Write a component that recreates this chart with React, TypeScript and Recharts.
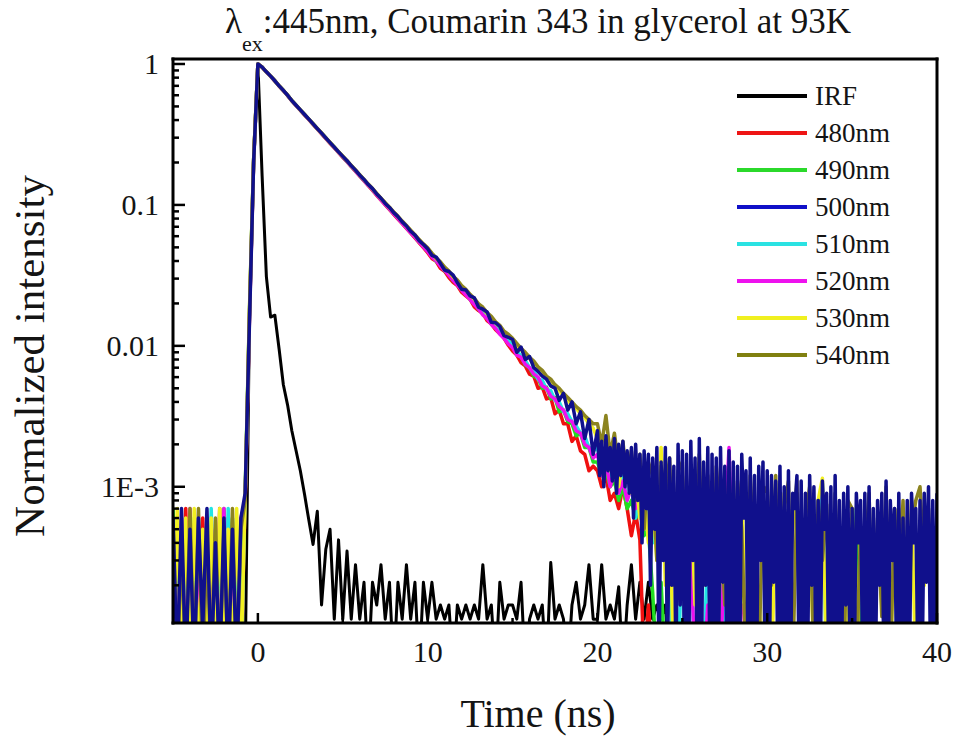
import React from 'react';
import { LineChart, Line, XAxis, YAxis, Legend } from 'recharts';

// ---------- data (intensities in units of 1e-4 of the peak; 0 = below the axis floor) ----------
const TIME_NS = [
  -5, -4.75, -4.5, -4.25, -4, -3.75, -3.5, -3.25, -3, -2.75, -2.5, -2.25, -2, -1.75, -1.5, -1.25, -1, -0.75, -0.5, -0.25,
  0, 0.25, 0.5, 0.75, 1, 1.25, 1.5, 1.75, 2, 2.25, 2.5, 2.75, 3, 3.25, 3.5, 3.75, 4, 4.25, 4.5, 4.75,
  5, 5.25, 5.5, 5.75, 6, 6.25, 6.5, 6.75, 7, 7.25, 7.5, 7.75, 8, 8.25, 8.5, 8.75, 9, 9.25, 9.5, 9.75,
  10, 10.25, 10.5, 10.75, 11, 11.25, 11.5, 11.75, 12, 12.25, 12.5, 12.75, 13, 13.25, 13.5, 13.75, 14, 14.25, 14.5, 14.75,
  15, 15.25, 15.5, 15.75, 16, 16.25, 16.5, 16.75, 17, 17.25, 17.5, 17.75, 18, 18.25, 18.5, 18.75, 19, 19.25, 19.5, 19.75,
  20, 20.25, 20.5, 20.75, 21, 21.25, 21.5, 21.75, 22, 22.25, 22.5, 22.75, 23, 23.25, 23.5, 23.75, 24, 24.25, 24.5, 24.75,
  25, 25.25, 25.5, 25.75, 26, 26.25, 26.5, 26.75, 27, 27.25, 27.5, 27.75, 28, 28.25, 28.5, 28.75, 29, 29.25, 29.5, 29.75,
  30, 30.25, 30.5, 30.75, 31, 31.25, 31.5, 31.75, 32, 32.25, 32.5, 32.75, 33, 33.25, 33.5, 33.75, 34, 34.25, 34.5, 34.75,
  35, 35.25, 35.5, 35.75, 36, 36.25, 36.5, 36.75, 37, 37.25, 37.5, 37.75, 38, 38.25, 38.5, 38.75, 39, 39.25, 39.5, 39.75,
  40,
];

// the 500nm trace is sampled more finely in its long tail
const TIME_500_TAIL = [
  20, 20.125, 20.25, 20.375, 20.5, 20.625, 20.75, 20.875,
  21, 21.125, 21.25, 21.375, 21.5, 21.625, 21.75, 21.875,
  22, 22.125, 22.25, 22.375, 22.5, 22.625, 22.75, 22.875,
  23, 23.125, 23.25, 23.375, 23.5, 23.625, 23.75, 23.875,
  24, 24.125, 24.25, 24.375, 24.5, 24.625, 24.75, 24.875,
  25, 25.125, 25.25, 25.375, 25.5, 25.625, 25.75, 25.875,
  26, 26.125, 26.25, 26.375, 26.5, 26.625, 26.75, 26.875,
  27, 27.125, 27.25, 27.375, 27.5, 27.625, 27.75, 27.875,
  28, 28.125, 28.25, 28.375, 28.5, 28.625, 28.75, 28.875,
  29, 29.125, 29.25, 29.375, 29.5, 29.625, 29.75, 29.875,
  30, 30.125, 30.25, 30.375, 30.5, 30.625, 30.75, 30.875,
  31, 31.125, 31.25, 31.375, 31.5, 31.625, 31.75, 31.875,
  32, 32.125, 32.25, 32.375, 32.5, 32.625, 32.75, 32.875,
  33, 33.125, 33.25, 33.375, 33.5, 33.625, 33.75, 33.875,
  34, 34.125, 34.25, 34.375, 34.5, 34.625, 34.75, 34.875,
  35, 35.125, 35.25, 35.375, 35.5, 35.625, 35.75, 35.875,
  36, 36.125, 36.25, 36.375, 36.5, 36.625, 36.75, 36.875,
  37, 37.125, 37.25, 37.375, 37.5, 37.625, 37.75, 37.875,
  38, 38.125, 38.25, 38.375, 38.5, 38.625, 38.75, 38.875,
  39, 39.125, 39.25, 39.375, 39.5, 39.625, 39.75, 39.875,
  40,
];

const IRF = [
  0, 0, 0, 0, 0, 0, 0, 0, 0, 0, 0, 0, 0, 0, 0, 0, 0, 0, 150, 2200,
  10000, 1600, 310, 160, 165, 95, 53, 38, 25, 18, 13, 8.8, 5.8, 3.9, 6.7, 1.45, 3.6, 5.0, 1.15, 4.2,
  1.15, 3.5, 1.15, 2.8, 1.15, 2.1, 0, 2.1, 1.45, 2.8, 1.15, 2.1, 0, 2.1, 1.15, 2.8, 1.15, 2.1, 0, 2.1,
  1.15, 2.1, 1.15, 1.45, 1.15, 1.45, 0, 1.45, 1.15, 1.45, 1.15, 1.45, 1.15, 2.8, 1.15, 1.45, 0, 2.1, 1.15, 1.45,
  1.45, 1.15, 2.1, 0, 1.15, 1.45, 1.15, 1.45, 0, 2.9, 1.15, 1.45, 1.15, 0, 1.45, 2.1, 1.15, 1.45, 2.8, 1.15,
  1.15, 2.8, 1.15, 1.45, 1.15, 1.95, 0, 1.45, 2.8, 1.15, 2.1, 1.15, 2.1, 1.15, 1.45, 1.15, 1.45, 0, 0, 0,
  0, 1.45, 0, 0, 1.45, 0, 0, 0, 1.45, 0, 0, 0, 0, 1.45, 0, 0, 0, 0, 0, 0,
  0, 0, 0, 0, 1.45, 0, 0, 0, 0, 0, 0, 0, 0, 0, 0, 0, 0, 0, 0, 0,
  0, 0, 0, 0, 0, 0, 0, 0, 0, 0, 0, 0, 0, 0, 0, 0, 0, 0, 0, 0,
  0,
];

const S480 = [
  0, 5, 0, 7, 0, 4, 0, 6, 0, 5, 0, 7, 0, 6, 0, 5, 0, 8, 150, 2050,
  10000, 9480, 8780, 8170, 7570, 6970, 6470, 5970, 5470, 5070, 4690, 4350, 4030, 3730, 3450, 3200, 2960, 2740, 2540, 2350,
  2180, 2020, 1870, 1730, 1600, 1480, 1370, 1270, 1170, 1080, 1000, 928, 858, 795, 736, 681, 630, 583, 539, 498,
  458, 417, 398, 355, 338, 305, 282, 268, 240, 226, 214, 189, 178, 170, 151, 143, 130, 122, 113, 101,
  92, 86, 76, 72, 63, 61, 50, 51, 42, 43, 33, 35, 28, 28, 21, 23, 18, 17, 13, 14,
  13, 10, 12, 8, 9, 7, 10, 7, 4.5, 6.5, 4.2, 0, 1.45, 0, 0, 0, 0, 0, 0, 0,
  0, 0, 0, 0, 1.45, 0, 0, 0, 0, 0, 0, 0, 2.1, 0, 0, 0, 0, 0, 0, 0,
  0, 0, 0, 0, 0, 0, 0, 0, 0, 0, 0, 0, 0, 0, 0, 0, 0, 0, 0, 0,
  0, 0, 0, 0, 0, 0, 0, 0, 0, 0, 0, 0, 0, 0, 0, 0, 0, 0, 0, 0,
  0,
];

const S490 = [
  7, 0, 6, 0, 4, 0, 5, 0, 6, 0, 4, 0, 7, 0, 6, 0, 4, 8.5, 160, 2080,
  10000, 9490, 8790, 8190, 7590, 6990, 6490, 5990, 5490, 5090, 4710, 4370, 4050, 3750, 3470, 3220, 2980, 2760, 2560, 2370,
  2190, 2035, 1880, 1745, 1612, 1495, 1382, 1285, 1182, 1095, 1012, 942, 868, 808, 746, 692, 640, 594, 548, 508,
  470, 436, 398, 377, 340, 321, 291, 275, 250, 236, 213, 203, 181, 172, 158, 146, 136, 127, 114, 108,
  99, 87, 84, 73, 70, 61, 59, 50, 51, 42, 43, 34, 35, 29, 28, 23, 24, 19, 19, 15,
  15, 12, 13, 10, 11, 8, 10, 7, 8, 6, 7, 4.5, 5, 1.8, 0, 2.1, 0, 0, 0, 0,
  0, 2.8, 0, 0, 1.45, 0, 0, 0, 0, 2.1, 0, 0, 0, 0, 0, 0, 0, 0, 0, 0,
  0, 0, 0, 0, 0, 0, 0, 0, 0, 0, 0, 0, 0, 0, 0, 0, 0, 0, 0, 0,
  0, 7, 0, 0, 0, 0, 0, 0, 0, 0, 0, 0, 0, 0, 0, 0, 0, 0, 0, 0,
  0,
];

const S500_HEAD = [
  6, 0, 7, 0, 5, 0, 6, 1, 7, 0, 4, 0, 6, 0, 5, 0, 6, 9, 140, 2000,
  10000, 9500, 8800, 8200, 7600, 7000, 6500, 6000, 5500, 5100, 4720, 4380, 4060, 3760, 3480, 3230, 2990, 2770, 2570, 2380,
  2210, 2060, 1895, 1765, 1625, 1515, 1395, 1305, 1195, 1115, 1025, 960, 882, 826, 758, 709, 650, 611, 558, 524,
  488, 439, 427, 385, 345, 337, 318, 281, 252, 249, 226, 219, 188, 182, 174, 147, 146, 137, 118, 115,
  111, 90, 98, 80, 84, 70, 66, 61, 58, 52, 50, 41, 46, 35, 40, 28, 34, 22, 30, 17,
];

const S500_TAIL = [
  25, 12, 21, 10, 23, 13, 19, 11,
  22, 9, 20, 12, 21, 10, 18, 9,
  19, 6, 20, 8, 17, 4, 18, 7,
  17, 2, 16, 5, 19, 0, 15, 3,
  19, 0, 16, 2, 14, 0, 20, 1.45,
  18, 0, 17, 0, 21, 3, 16, 0,
  22, 0, 15, 2, 19, 0, 17, 0,
  16, 0, 19, 2.1, 14, 0, 18, 0,
  15, 0, 14, 0, 17, 6, 13, 0,
  16, 0, 12, 0, 14, 3, 15, 0,
  13, 0, 12, 2.1, 11, 0, 14, 0,
  10, 0, 13, 0, 9, 7, 12, 0,
  11, 0, 9, 0, 12, 2, 10, 0,
  8, 0, 11, 5, 9, 0, 10, 0,
  12, 0, 8, 0, 9, 1.45, 10, 0,
  7, 0, 9, 4, 8, 0, 9, 0,
  10, 0, 7, 0, 8, 2, 9, 0,
  11, 0, 8, 3, 7, 0, 9, 0,
  6, 0, 8, 0, 9, 4, 7, 0,
  8, 0, 9, 2.1, 10, 0, 8, 0,
  9,
];

const S510 = [
  0, 6, 0, 5, 0, 6, 0, 4, 0, 7, 0, 5, 0, 7, 0, 5, 0, 9, 165, 2090,
  10000, 9495, 8795, 8195, 7595, 6995, 6495, 5995, 5495, 5095, 4715, 4375, 4055, 3755, 3475, 3225, 2985, 2765, 2565, 2375,
  2200, 2040, 1888, 1752, 1618, 1500, 1388, 1290, 1188, 1100, 1018, 946, 874, 812, 750, 696, 644, 598, 552, 512,
  475, 440, 404, 380, 346, 325, 296, 279, 255, 238, 218, 206, 186, 176, 160, 151, 137, 129, 116, 110,
  102, 93, 84, 79, 70, 68, 58, 57, 49, 48, 41, 40, 34, 33, 29, 27, 24, 23, 19, 18,
  19, 13, 16, 11, 14, 9, 12, 8, 10, 6, 9, 5, 7, 4, 6, 3.5, 4, 2.1, 0, 0,
  4.5, 0, 3, 0, 1.45, 0, 4, 2, 0, 0, 1.45, 0, 0, 0, 0, 0, 0, 0, 0, 0,
  0, 0, 0, 0, 0, 0, 0, 0, 0, 0, 0, 0, 0, 10.6, 0, 0, 0, 0, 0, 0,
  0, 0, 0, 0, 0, 0, 0, 0, 0, 0, 0, 0, 0, 0, 0, 0, 0, 0, 0, 0,
  0,
];

const S520 = [
  5, 0, 6, 0, 7, 0, 3, 0, 6, 0, 5, 0, 7, 0, 4, 0, 6, 8, 155, 2070,
  10000, 9485, 8785, 8180, 7580, 6980, 6480, 5980, 5480, 5080, 4700, 4360, 4040, 3740, 3460, 3210, 2970, 2750, 2550, 2360,
  2185, 2028, 1876, 1740, 1606, 1488, 1376, 1278, 1176, 1088, 1006, 935, 864, 800, 741, 686, 635, 588, 544, 503,
  466, 426, 402, 367, 343, 316, 292, 270, 248, 229, 213, 196, 182, 166, 156, 142, 133, 121, 113, 103,
  97, 86, 83, 74, 70, 63, 60, 52, 50, 44, 42, 37, 35, 30, 29, 25, 24, 20, 19, 16,
  17, 12, 15, 10, 13, 9, 11, 8, 10, 7, 9, 7.5, 8, 6, 7, 4, 5, 3, 4.5, 2,
  4, 1.45, 3.5, 0, 2.1, 0, 1.45, 0, 3, 0, 5, 19, 2, 0, 1.45, 1.2, 1.3, 1.2, 1.3, 0,
  0, 0, 0, 0, 0, 0, 0, 0, 0, 0, 0, 0, 0, 0, 0, 0, 0, 0, 0, 6.5,
  0, 0, 0, 0, 0, 0, 0, 0, 0, 0, 0, 0, 0, 0, 0, 0, 0, 0, 0, 0,
  0,
];

const S530 = [
  0, 7, 0, 6, 0, 7, 0, 5, 0, 6, 0, 7, 0, 5, 0, 7, 0, 9, 175, 2120,
  10000, 9500, 8800, 8200, 7600, 7000, 6500, 6000, 5500, 5100, 4720, 4380, 4060, 3760, 3480, 3230, 2990, 2770, 2570, 2380,
  2215, 2052, 1902, 1765, 1632, 1512, 1402, 1302, 1202, 1112, 1032, 958, 889, 824, 764, 708, 657, 609, 564, 523,
  492, 452, 416, 392, 358, 336, 308, 289, 265, 249, 229, 214, 196, 185, 169, 159, 145, 137, 124, 118,
  110, 100, 94, 87, 81, 75, 69, 65, 59, 56, 51, 48, 44, 41, 38, 36, 33, 31, 28, 26,
  22, 15, 19, 13, 18, 10, 16, 14, 9, 12, 6, 10, 4, 8, 3, 19, 2, 7, 0, 5,
  12, 3, 9, 1.45, 2.6, 6, 8, 0, 10, 2.1, 7, 0, 9, 4, 11, 0, 9.5, 2.2, 1.45, 0,
  8, 0, 6, 2, 9, 0, 5, 11, 0, 3, 7, 0, 8, 11.5, 0, 4, 6, 0, 5, 0,
  7, 0, 5, 2, 6, 0, 4, 1.45, 8, 0, 6, 7, 3, 0, 8, 0, 5, 2, 6, 0,
  4,
];

const S540 = [
  6, 0, 4, 0, 7, 0, 7, 0, 4, 0, 6, 0, 5, 0, 7, 0, 5, 8, 168, 2110,
  10000, 9505, 8805, 8205, 7605, 7005, 6505, 6005, 5505, 5105, 4725, 4385, 4065, 3765, 3485, 3235, 2995, 2775, 2575, 2385,
  2220, 2058, 1906, 1770, 1636, 1518, 1406, 1308, 1206, 1118, 1036, 964, 893, 830, 768, 714, 661, 615, 568, 529,
  496, 455, 421, 395, 362, 339, 312, 293, 268, 252, 232, 217, 199, 188, 172, 162, 148, 140, 127, 121,
  113, 104, 96, 90, 83, 78, 71, 67, 61, 58, 53, 50, 46, 43, 40, 37, 35, 32, 30, 28,
  28, 20, 32, 17, 24, 14, 21, 11, 18, 8, 17, 5, 15, 12, 3, 14, 9, 16, 2, 13,
  15, 0, 13, 5, 17, 2, 12, 0, 14, 6, 1.45, 13.5, 0, 11, 5, 0, 12, 3, 0, 9,
  10, 2, 12, 0, 7, 11, 0, 9, 1.2, 6, 10, 0, 8, 3, 7.5, 0, 9, 1.2, 0, 8,
  7, 0, 5, 3.4, 9, 0, 6, 1.2, 10, 0, 7, 2, 8, 0, 5, 8, 10, 2.6, 7, 0,
  6,
];

const TIME_500 = [...TIME_NS.slice(0, S500_HEAD.length), ...TIME_500_TAIL];
const S500 = [...S500_HEAD, ...S500_TAIL];

const X_MAJOR = [0, 10, 20, 30, 40];
const X_MINOR = [5, 15, 25, 35];
const Y_MAJOR = [0.001, 0.01, 0.1, 1];
const Y_MAJOR_LABELS = ['1E-3', '0.01', '0.1', '1'];
const Y_MINOR = [
  0.0002, 0.0003, 0.0004, 0.0005, 0.0006, 0.0007, 0.0008, 0.0009,
  0.002, 0.003, 0.004, 0.005, 0.006, 0.007, 0.008, 0.009,
  0.02, 0.03, 0.04, 0.05, 0.06, 0.07, 0.08, 0.09,
  0.2, 0.3, 0.4, 0.5, 0.6, 0.7, 0.8, 0.9,
];

// ---------- series definitions (draw order: blue last, on top) ----------
const SERIES = [
  { key: 'irf', name: 'IRF', time: TIME_NS, values: IRF, color: '#000000', width: 3 },
  { key: 's480', name: '480nm', time: TIME_NS, values: S480, color: '#f01010', width: 3.5 },
  { key: 's490', name: '490nm', time: TIME_NS, values: S490, color: '#22dd22', width: 3.5 },
  { key: 's510', name: '510nm', time: TIME_NS, values: S510, color: '#22e4e4', width: 3.5 },
  { key: 's520', name: '520nm', time: TIME_NS, values: S520, color: '#ee10ee', width: 3.5 },
  { key: 's530', name: '530nm', time: TIME_NS, values: S530, color: '#f2f022', width: 3.5 },
  { key: 's540', name: '540nm', time: TIME_NS, values: S540, color: '#8c8420', width: 3.5 },
  { key: 's500', name: '500nm', time: TIME_500, values: S500, color: '#10108c', width: 3.5 },
];

const LEGEND_ITEMS = [
  { name: 'IRF', color: '#000000' },
  { name: '480nm', color: '#ee1515' },
  { name: '490nm', color: '#2bd92b' },
  { name: '500nm', color: '#1010c8' },
  { name: '510nm', color: '#2ae2e2' },
  { name: '520nm', color: '#ee12ee' },
  { name: '530nm', color: '#f0f020' },
  { name: '540nm', color: '#808010' },
];

const UNIT = 1e-4;
const FLOOR = 5e-5; // zero counts sit below the bottom of the log axis
const Y_DOMAIN: [number, number] = [1.08e-4, 1.085];

const seriesData = (time: number[], values: number[]) =>
  time.map((t, i) => {
    const v = values[i];
    return { t, v: v > 0 ? v * UNIT : FLOOR };
  });

const FONT = "'Liberation Serif', 'Times New Roman', Times, serif";
const INK = '#141414';

const YTick = (props: any) => {
  const { x, y, payload } = props;
  const v = payload.value;
  const mi = Y_MAJOR.indexOf(v);
  const major = mi >= 0;
  return (
    <g>
      <line x1={x} x2={x + (major ? 12 : 6)} y1={y} y2={y} stroke="#000" strokeWidth={2.5} />
      {major && (
        <text x={x - 14} y={y} dy="0.35em" textAnchor="end" fontSize={30} fontFamily={FONT} fill={INK}>
          {Y_MAJOR_LABELS[mi]}
        </text>
      )}
    </g>
  );
};

const XTick = (props: any) => {
  const { x, y, payload } = props;
  const v = payload.value;
  const major = X_MAJOR.includes(v);
  return (
    <g>
      <line x1={x} x2={x} y1={y} y2={y - (major ? 10 : 5)} stroke="#000" strokeWidth={2.5} />
      {major && (
        <text x={x} y={y + 39} textAnchor="middle" fontSize={30} fontFamily={FONT} fill={INK}>
          {String(v)}
        </text>
      )}
    </g>
  );
};

const LegendBox = () => (
  <svg width={230} height={300} style={{ display: 'block' }}>
    {LEGEND_ITEMS.map((it, i) => {
      const cy = 18 + i * 37;
      return (
        <g key={it.name}>
          <line x1={7} x2={77} y1={cy} y2={cy} stroke={it.color} strokeWidth={4} />
          <text x={85} y={cy + 9} fontSize={27} fontFamily={FONT} fill={INK}>
            {it.name}
          </text>
        </g>
      );
    })}
  </svg>
);

export default function App() {
  return (
    <div style={{ position: 'absolute', left: 0, top: 0, width: 957, height: 742, background: '#fff' }}>
      <LineChart width={957} height={742} margin={{ top: 58, right: 19, bottom: 89, left: 113 }}>
        <XAxis
          dataKey="t"
          type="number"
          domain={[-5, 40]}
          allowDataOverflow
          ticks={[...X_MINOR, ...X_MAJOR].sort((a, b) => a - b)}
          interval={0}
          tickSize={0}
          tickMargin={0}
          tickLine={false}
          tick={XTick}
          height={30}
          axisLine={{ stroke: '#000', strokeWidth: 3, strokeLinecap: 'square' }}
        />
        <XAxis
          xAxisId="top"
          orientation="top"
          type="number"
          domain={[-5, 40]}
          allowDataOverflow
          tick={false}
          tickLine={false}
          height={1}
          axisLine={{ stroke: '#000', strokeWidth: 3, strokeLinecap: 'square' }}
        />
        <YAxis
          scale="log"
          type="number"
          domain={Y_DOMAIN}
          allowDataOverflow
          ticks={[...Y_MINOR, ...Y_MAJOR].sort((a, b) => a - b)}
          interval={0}
          tickSize={0}
          tickMargin={0}
          tickLine={false}
          tick={YTick}
          width={60}
          axisLine={{ stroke: '#000', strokeWidth: 3, strokeLinecap: 'square' }}
        />
        <YAxis
          yAxisId="right"
          orientation="right"
          type="number"
          domain={[0, 1]}
          allowDataOverflow
          tick={false}
          tickLine={false}
          width={1}
          axisLine={{ stroke: '#000', strokeWidth: 3, strokeLinecap: 'square' }}
        />
        {SERIES.map((s) => (
          <Line
            key={s.key}
            data={seriesData(s.time, s.values)}
            dataKey="v"
            name={s.name}
            type="linear"
            stroke={s.color}
            strokeWidth={s.width}
            strokeLinejoin="round"
            dot={false}
            activeDot={false}
            isAnimationActive={false}
          />
        ))}
        <Legend
          layout="horizontal"
          verticalAlign="middle"
          align="center"
          content={() => <LegendBox />}
          wrapperStyle={{ left: 730, top: 78, width: 230, height: 300 }}
        />
        <text x={538} y={33} textAnchor="middle" fontSize={35} fontFamily={FONT} fill={INK}>
          λ
          <tspan fontSize={22} dy={18}>ex</tspan>
          <tspan dy={-18}>:445nm, Coumarin 343 in glycerol at 93K</tspan>
        </text>
        <text x={538} y={727} textAnchor="middle" fontSize={40} fontFamily={FONT} fill={INK}>
          Time (ns)
        </text>
        <text
          transform="translate(44,356) rotate(-90)"
          textAnchor="middle"
          fontSize={43}
          fontFamily={FONT}
          fill={INK}
        >
          Normalized intensity
        </text>
      </LineChart>
    </div>
  );
}
